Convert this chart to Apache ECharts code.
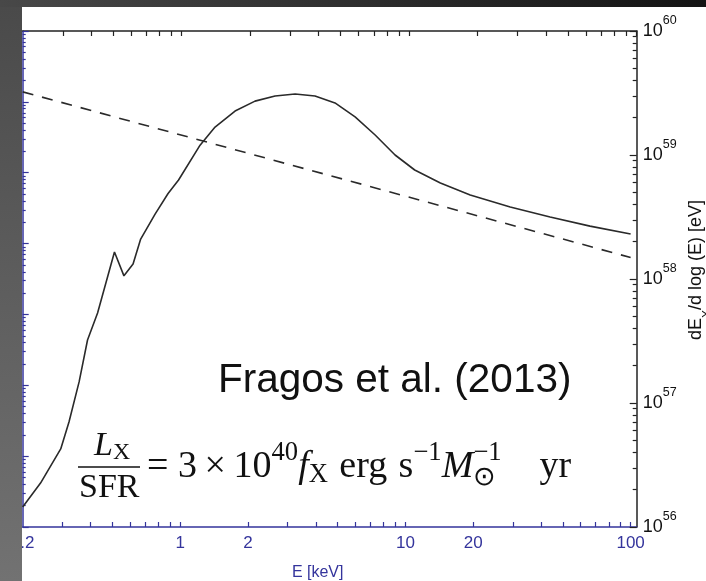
<!DOCTYPE html>
<html>
<head>
<meta charset="utf-8">
<script src="https://cdn.jsdelivr.net/npm/echarts@6/dist/echarts.min.js"></script>
<style>
html, body { margin: 0; padding: 0; background: #ffffff; }
#chart { width: 706px; height: 581px; }
</style>
</head>
<body>
<div id="chart"></div>
<script>
// Spectral energy distribution of X-ray binaries, dE_X / d log(E), vs photon energy E (keV)
const energySolid = [0.2, 0.24, 0.295, 0.321, 0.356, 0.388, 0.43, 0.511, 0.563, 0.618, 0.668, 0.774, 0.884, 0.984,
  1.226, 1.429, 1.753, 2.15, 2.64, 3.24, 3.97, 4.87, 5.98, 7.34, 9.0, 11.0, 14.3, 19.4, 29.2, 43.9, 66.0, 100];
const solidValues = [1.45e56, 2.26e56, 4.26e56, 7.03e56, 1.48e57, 3.22e57, 5.32e57, 1.65e58, 1.06e58, 1.32e58, 2.10e58,
  3.34e58, 4.89e58, 6.29e58, 1.20e59, 1.68e59, 2.26e59, 2.72e59, 2.99e59, 3.10e59, 2.99e59, 2.63e59, 2.03e59,
  1.45e59, 1.0e59, 7.57e58, 5.95e58, 4.76e58, 3.81e58, 3.16e58, 2.67e58, 2.31e58];

// power-law reference spectrum
const energyDashed = [0.2, 100];
const dashedValues = [3.23e59, 1.49e58];

// axis labels
const energyLabels = [0.2, 1, 2, 10, 20, 100];
const powerLabels = [1e56, 1e57, 1e58, 1e59, 1e60];

// log tick positions: 1..9 times each decade
function logTicks(fromExp, toExp, withMajor) {
  const out = [];
  for (let e = fromExp; e < toExp; e++) {
    for (let m = withMajor ? 1 : 2; m <= 9; m++) out.push(+(m * Math.pow(10, e)).toPrecision(3));
  }
  if (withMajor) out.push(Math.pow(10, toExp));
  return out;
}
const energyTicks = logTicks(-1, 2, true).filter(v => v > 0.2);
const powerMajor = powerLabels;
const powerMinor = logTicks(56, 60, false);
const leftMajor = [1, 1e1, 1e2, 1e3, 1e4, 1e5, 1e6, 1e7];
const leftMinor = logTicks(0, 7, false);

const BLUE = '#34349c';
const SANS = 'Liberation Sans, Arial, sans-serif';
const SERIF = 'Liberation Serif, Times New Roman, serif';

const chart = echarts.init(document.getElementById('chart'), null, { renderer: 'canvas' });

function yAxisCommon(extra) {
  return Object.assign({
    type: 'log', logBase: 10, splitLine: { show: false }, minorTick: { show: false }
  }, extra);
}

// formula layout helper: measures each piece and places them left to right
const measureCtx = document.createElement('canvas').getContext('2d');
function textWidth(str, size, italic, family) {
  measureCtx.font = (italic ? 'italic ' : '') + size + 'px ' + family;
  return measureCtx.measureText(str).width;
}
function layoutPieces(pieces, x0, yMid, size) {
  const els = [];
  let x = x0;
  pieces.forEach(p => {
    if (p.gap) { x += p.gap * size; return; }
    const s = size * (p.scale || 1);
    const w = textWidth(p.t, s, p.italic, SERIF);
    els.push({
      type: 'text', x: x, y: yMid + (p.dy || 0) * size, z: 50,
      style: {
        text: p.t, fontSize: s, fontFamily: SERIF, fontStyle: p.italic ? 'italic' : 'normal',
        fill: '#111', verticalAlign: 'middle', align: 'left'
      }
    });
    if (!p.noAdvance) x = x + w;
  });
  return els;
}

const FS = 38;
const mainLine = layoutPieces([
  { t: '=' }, { gap: 0.25 }, { t: '3' }, { gap: 0.2 }, { t: '×' }, { gap: 0.2 }, { t: '10' },
  { t: '40', scale: 0.7, dy: -0.36 }, { t: 'f', italic: true }, { t: 'X', scale: 0.7, dy: 0.2 },
  { gap: 0.3 }, { t: 'erg' }, { gap: 0.3 }, { t: 's' }, { t: '−1', scale: 0.7, dy: -0.36 },
  { t: 'M', italic: true }, { t: '⊙', scale: 0.7, dy: 0.3, noAdvance: true }, { t: '−1', scale: 0.7, dy: -0.36 },
  { gap: 1.0 }, { t: 'yr' }
], 147, 467, FS);
const numerator = layoutPieces([{ t: 'L', italic: true }, { t: 'X', scale: 0.7, dy: 0.2 }], 94, 446, 34);
const denominator = layoutPieces([{ t: 'SFR' }], 79, 488, 34);

const option = {
  animation: false,
  backgroundColor: '#ffffff',
  grid: { left: 22.7, top: 31, width: 614, height: 496, containLabel: false, outerBoundsMode: 'none' },
  xAxis: [
    {
      type: 'log', logBase: 10, min: 0.2, max: 106.4, position: 'bottom',
      axisLine: { lineStyle: { color: BLUE, width: 1.5 } },
      axisTick: { inside: true, length: 5, customValues: energyTicks, lineStyle: { color: BLUE, width: 1.2 } },
      axisLabel: { customValues: energyLabels, color: BLUE, fontSize: 17, fontFamily: SANS, margin: 8,
        formatter: v => String(+(+v).toPrecision(3)) },
      splitLine: { show: false },
      name: 'E [keV]', nameLocation: 'middle', nameGap: 38,
      nameTextStyle: { color: BLUE, fontSize: 16, fontFamily: SANS, padding: [0, 24, 0, 0] }
    },
    {
      type: 'log', logBase: 10, min: 0.2, max: 100.0001, position: 'top',
      axisLine: { lineStyle: { color: '#222', width: 1.5 } },
      axisTick: { inside: true, length: 5, customValues: energyTicks, lineStyle: { color: '#222', width: 1.2 } },
      axisLabel: { show: false }, splitLine: { show: false }
    }
  ],
  yAxis: [
    yAxisCommon({
      min: 1e56, max: 1.000001e60, position: 'right',
      axisLine: { show: true, lineStyle: { color: '#222', width: 1.5 } },
      axisTick: { inside: true, length: 7, customValues: powerMajor, lineStyle: { color: '#222', width: 1.2 } },
      axisLabel: {
        customValues: powerLabels, margin: 6, hideOverlap: false,
        formatter: v => '{b|10}{s|' + Math.round(Math.log10(v)) + '}',
        rich: {
          b: { fontSize: 18, fontFamily: SANS, color: '#111', lineHeight: 34, verticalAlign: 'middle' },
          s: { fontSize: 12.5, fontFamily: SANS, color: '#111', lineHeight: 12, verticalAlign: 'top' }
        }
      },
      name: '{a|dE}{x|X}{a|/d log (E) [eV]}', nameLocation: 'middle', nameGap: 45, nameRotate: 90,
      nameTextStyle: {
        padding: [0, 0, 0, 18],
        rich: {
          a: { fontSize: 18, fontFamily: SANS, color: '#111', lineHeight: 26, verticalAlign: 'top' },
          x: { fontSize: 12, fontFamily: SANS, color: '#111', lineHeight: 12, verticalAlign: 'bottom' }
        }
      }
    }),
    yAxisCommon({
      min: 1e56, max: 1.000001e60, position: 'right',
      axisLine: { show: false },
      axisTick: { inside: true, length: 4, customValues: powerMinor, lineStyle: { color: '#222', width: 1.2 } },
      axisLabel: { show: false }
    }),
    yAxisCommon({
      min: 1, max: 1.000001e7, position: 'left',
      axisLine: { show: true, lineStyle: { color: BLUE, width: 1.5 } },
      axisTick: { inside: true, length: 6, customValues: leftMajor, lineStyle: { color: BLUE, width: 1.2 } },
      axisLabel: { show: false }
    }),
    yAxisCommon({
      min: 1, max: 1.000001e7, position: 'left',
      axisLine: { show: false },
      axisTick: { inside: true, length: 3, customValues: leftMinor, lineStyle: { color: BLUE, width: 1.2 } },
      axisLabel: { show: false }
    })
  ],
  series: [
    {
      type: 'line', xAxisIndex: 0, yAxisIndex: 0, showSymbol: false, symbol: 'none',
      data: energySolid.map((e, i) => [e, solidValues[i]]),
      lineStyle: { color: '#2a2a2a', width: 1.6 }
    },
    {
      type: 'line', xAxisIndex: 0, yAxisIndex: 0, showSymbol: false, symbol: 'none',
      data: energyDashed.map((e, i) => [e, dashedValues[i]]),
      lineStyle: { color: '#2a2a2a', width: 1.6, type: [11, 9] }
    }
  ],
  graphic: [
    // slide backdrop bands
    {
      type: 'rect', left: 0, top: 0, z: 100, shape: { width: 706, height: 7 },
      style: { fill: new echarts.graphic.LinearGradient(0, 0, 1, 0, [
        { offset: 0, color: '#484848' }, { offset: 1, color: '#141414' }]) }
    },
    {
      type: 'rect', left: 0, top: 7, z: 100, shape: { width: 22, height: 574 },
      style: { fill: new echarts.graphic.LinearGradient(0, 0, 0, 1, [
        { offset: 0, color: '#4a4a4a' }, { offset: 1, color: '#727272' }]) }
    },
    {
      type: 'text', x: 218, y: 381, z: 50,
      style: { text: 'Fragos et al. (2013)', fontSize: 40.5, fontFamily: SANS, fill: '#111', verticalAlign: 'middle' }
    },
    { type: 'line', z: 50, shape: { x1: 78, y1: 467, x2: 140, y2: 467 }, style: { stroke: '#111', lineWidth: 1.6 } }
  ].concat(mainLine, numerator, denominator)
};
chart.setOption(option);
</script>
</body>
</html>
